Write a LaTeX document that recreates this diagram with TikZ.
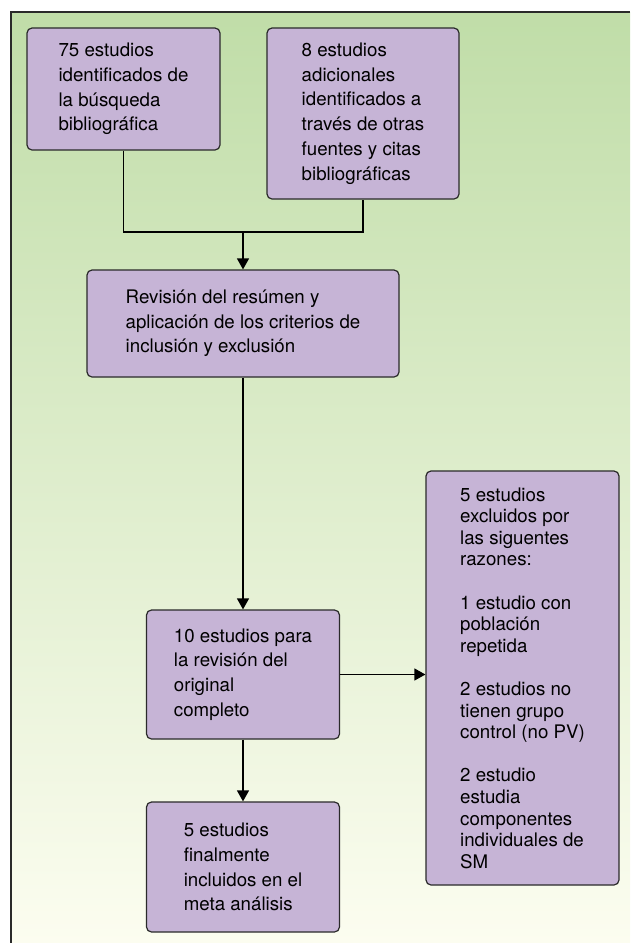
\documentclass[tikz,border=0pt]{standalone}
\usepackage{fontspec}
\setmainfont{TeX Gyre Heros}
\usetikzlibrary{arrows.meta}
\definecolor{boxfill}{HTML}{C6B4D6}
\definecolor{bgtop}{HTML}{C0DDA8}
\definecolor{bgbot}{HTML}{FCFDF0}
\definecolor{edge}{HTML}{2A2A2A}
\begin{document}
\begin{tikzpicture}[x=1pt,y=-1pt,
  flowbox/.style={draw=edge, line width=1.2pt, fill=boxfill, rounded corners=5pt,
    align=left, inner sep=0pt, font=\fontsize{18.7}{24.7}\selectfont},
  conn/.style={draw=black, line width=1.2pt},
  arr/.style={conn, -{Triangle[width=12pt,length=11pt]}}]
\useasboundingbox (0,0) rectangle (630,943);
\fill[white] (0,0) rectangle (630,943);
\shade[top color=bgtop, bottom color=bgbot] (11,12) rectangle (630,943);
\draw[draw=edge, line width=1.5pt] (11,943) -- (11,12) -- (630,12);

\node[flowbox, minimum width=193pt, minimum height=122pt] (b1) at (123.5,89)
  {75 estudios\\ identificados de\\ la búsqueda\\ bibliográfica};
\node[flowbox, minimum width=192pt, minimum height=171pt] (b2) at (363,113.5)
  {8 estudios\\ adicionales\\ identificados a\\ través de otras\\ fuentes y citas\\ bibliográficas};
\node[flowbox, minimum width=312pt, minimum height=107pt] (b3) at (243,323.5)
  {Revisión del resúmen y\\ aplicación de los criterios de\\ inclusión y exclusión};
\node[flowbox, minimum width=193pt, minimum height=129pt] (b4) at (243,674.5)
  {10 estudios para\\ la revisión del\\ original\\ completo};
\node[flowbox, minimum width=193pt, minimum height=414pt,
  font=\fontsize{18.7}{21.6}\selectfont] (b5) at (522.5,678)
  {5 estudios\\ excluidos por\\ las siguentes\\ razones:\\[21.6pt]
   1 estudio con\\ población\\ repetida\\[21.6pt]
   2 estudios no\\ tienen grupo\\ control (no PV)\\[21.6pt]
   2 estudio\\ estudia\\ componentes\\ individuales de\\ SM};
\node[flowbox, minimum width=193pt, minimum height=130pt] (b6) at (243,867)
  {5 estudios\\ finalmente\\ incluidos en el\\ meta análisis};

\coordinate (j) at (243,232);
\draw[conn] (b1.south) -- (b1.south |- j) -- (b2.south |- j) -- (b2.south);
\draw[arr] (j) -- (b3.north);
\draw[arr] (b3.south) -- (b4.north);
\draw[arr] (b4.east) -- (b4.east -| b5.west);
\draw[arr] (b4.south) -- (b6.north);
\end{tikzpicture}
\end{document}
